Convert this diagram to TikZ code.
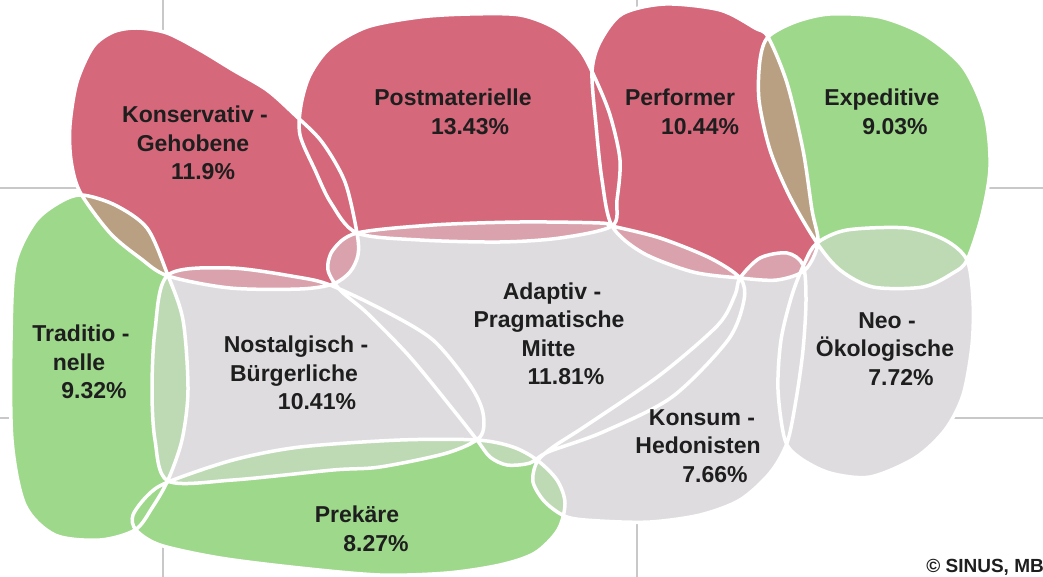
\documentclass[tikz,border=0pt]{standalone}
\usepackage{fontspec}
\setmainfont{Liberation Sans}
\usetikzlibrary{positioning}

\definecolor{kred}{RGB}{214,104,123}
\definecolor{kgreen}{RGB}{158,216,139}
\definecolor{kgrey}{RGB}{222,220,223}
\definecolor{gridcol}{RGB}{200,200,200}
\definecolor{textcol}{RGB}{30,30,30}

\newcommand\nudge[2]{\hspace*{#1}#2\hspace*{-#1}}

% milieu outlines, pixel coordinates
\def\pKons{plot[smooth cycle] coordinates {(137,28) (167,33) (200,50) (233,70) (267,90) (295,115) (322,142) (345,182) (357,233) (358,255) (350,272) (333,284) (300,289) (230,288) (168,276) (140,258) (110,233) (80,192) (71,160) (70,125) (77,82) (93,47) (113,32)}}
\def\pPost{plot[smooth cycle] coordinates {(357,233) (331,203) (315,170) (300,135) (301,105) (310,75) (330,48) (367,27) (420,17) (470,14) (520,15) (555,28) (580,50) (595,78) (610,115) (620,160) (617,200) (612,226) (560,238) (500,242) (420,240)}}
\def\pPerf{plot[smooth cycle] coordinates {(592,72) (600,42) (622,14) (665,4) (720,10) (755,28) (768,37) (787,83) (803,150) (812,210) (818,243) (805,270) (777,280) (740,278) (693,272) (643,253) (612,226) (602,180) (596,125)}}
\def\pExped{plot[smooth cycle] coordinates {(768,37) (795,22) (830,14) (880,17) (925,35) (963,67) (985,115) (990,167) (982,215) (967,260) (953,273) (923,287) (873,287) (840,270) (817,243) (790,197) (770,150) (759,100) (760,60)}}
\def\pTrad{plot[smooth cycle] coordinates {(82,195) (115,205) (147,228) (167,273) (183,320) (188,390) (182,440) (168,480) (152,508) (135,530) (100,540) (55,535) (25,505) (12,440) (11,340) (15,265) (35,222) (60,202)}}
\def\pNost{plot[smooth cycle] coordinates {(168,275) (230,268) (297,277) (330,285) (383,310) (433,340) (470,385) (483,413) (480,437) (447,453) (380,467) (333,470) (233,480) (168,481) (155,440) (152,390) (155,330)}}
\def\pAdapt{plot[smooth cycle] coordinates {(357,233) (433,225) (520,222) (600,223) (612,226) (660,238) (710,258) (740,278) (744,300) (728,340) (672,397) (603,432) (548,452) (530,463) (507,465) (490,457) (477,440) (455,412) (410,357) (367,313) (340,290) (328,270) (333,250)}}
\def\pKonsum{plot[smooth cycle] coordinates {(740,278) (760,258) (787,253) (803,265) (806,300) (803,350) (796,400) (787,443) (770,473) (740,500) (700,515) (650,522) (600,521) (567,517) (545,502) (533,482) (537,462) (553,447) (587,425) (660,375) (718,325) (735,295)}}
\def\pNeo{plot[smooth cycle] coordinates {(817,243) (847,230) (907,228) (945,240) (967,260) (973,300) (972,345) (963,395) (945,430) (915,458) (870,477) (830,473) (800,458) (785,440) (778,390) (781,340) (792,295) (805,262)}}
\def\pPrek{plot[smooth cycle] coordinates {(168,482) (233,460) (300,447) (400,440) (477,440) (513,447) (537,460) (557,480) (565,503) (558,530) (535,553) (500,565) (447,573) (380,575) (300,568) (220,558) (160,545) (136,530) (133,515) (148,495)}}

\begin{document}
\begin{tikzpicture}[x=1pt, y=-1pt,
    outline/.style={draw=white, line width=3.5pt},
    milieu/.style={font=\bfseries\fontsize{23}{28.5}\selectfont, text=textcol, align=center, inner sep=0pt}]
    \useasboundingbox (0,0) rectangle (1043,577);
    \fill[white] (0,0) rectangle (1043,577);

    \draw[gridcol, line width=1.2pt] (163,0) -- (163,577) (637,0) -- (637,577)
        (0,188) -- (1043,188) (0,418) -- (1043,418);

    \fill[kred] \pKons \pPost \pPerf;
    \fill[kgreen] \pTrad \pExped \pPrek;
    \fill[kgrey] \pNost \pAdapt \pKonsum \pNeo;

    % overlaps of differently coloured milieus
    \foreach \a in {\pKons,\pPost,\pPerf}{
        \foreach \b in {\pTrad,\pExped,\pPrek}{
            \begin{scope} \clip \a; \fill[kred!50!kgreen] \b; \end{scope}
        }
        \foreach \b in {\pNost,\pAdapt,\pKonsum,\pNeo}{
            \begin{scope} \clip \a; \fill[kred!50!kgrey] \b; \end{scope}
        }
    }
    \foreach \a in {\pTrad,\pExped,\pPrek}{
        \foreach \b in {\pNost,\pAdapt,\pKonsum,\pNeo}{
            \begin{scope} \clip \a; \fill[kgreen!50!kgrey] \b; \end{scope}
        }
    }

    \draw[outline] \pKons \pPost \pPerf \pExped \pTrad \pNost \pAdapt \pKonsum \pNeo \pPrek;

    \node[milieu] (kons) at (195,143) {Konservativ -\\\nudge{-4pt}{Gehobene}\\\nudge{8pt}{11.9\%}};
    \node[milieu] (post) at (453,112) {Postmaterielle\\\nudge{17pt}{13.43\%}};
    \node[milieu] (perf) at (680,112) {Performer\\\nudge{20pt}{10.44\%}};
    \node[milieu] (exped) at (882,112) {Expeditive\\\nudge{13pt}{9.03\%}};
    \node[milieu] (trad) at (81,362) {Traditio -\\\nudge{-4pt}{nelle}\\\nudge{13pt}{9.32\%}};
    \node[milieu] (nost) at (296,373) {Nostalgisch -\\\nudge{-4pt}{Bürgerliche}\\\nudge{21pt}{10.41\%}};
    \node[milieu] (adapt) at (552,334) {Adaptiv -\\\nudge{-6pt}{Pragmatische}\\\nudge{-7pt}{Mitte}\\\nudge{14pt}{11.81\%}};
    \node[milieu] (konsum) at (702,446) {Konsum -\\\nudge{-8pt}{Hedonisten}\\\nudge{13pt}{7.66\%}};
    \node[milieu] (neo) at (887,349) {Neo -\\\nudge{-4pt}{Ökologische}\\\nudge{14pt}{7.72\%}};
    \node[milieu] (prek) at (357,529) {Prekäre\\\nudge{19pt}{8.27\%}};
    \node[font=\bfseries\fontsize{19}{21}\selectfont, text=textcol, anchor=east, inner sep=0pt] (copy) at (1044,567) {© SINUS, MB};
\end{tikzpicture}
\end{document}
